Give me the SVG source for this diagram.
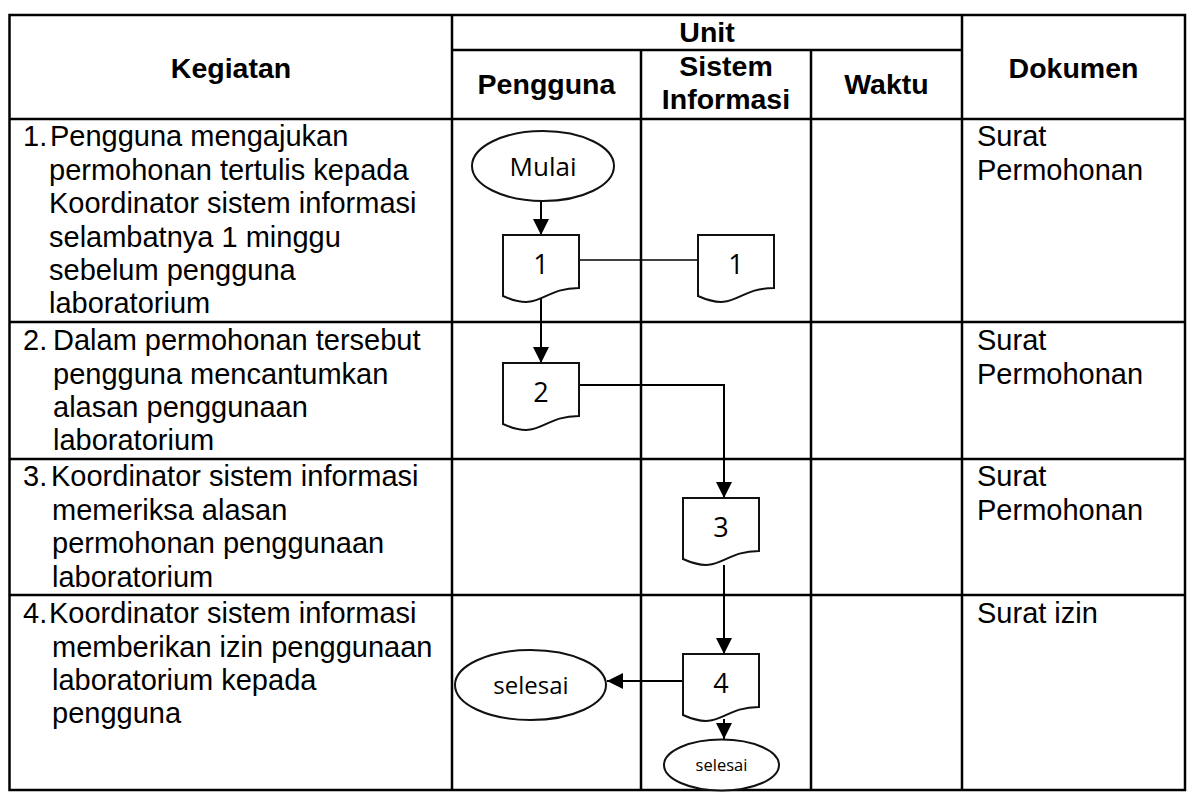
<svg xmlns="http://www.w3.org/2000/svg" width="1187" height="792" viewBox="0 0 1187 792">
<style>
.grid{stroke:#000;stroke-width:2.5;fill:none}
.hd{font-family:"Liberation Sans",Arial,sans-serif;font-weight:bold;font-size:28.5px;text-anchor:middle;fill:#000}
.tx{font-family:"Liberation Sans",Arial,sans-serif;font-size:29px;fill:#000}
.shape{fill:#fff;stroke:#111;stroke-width:2}
.lbl{font-family:"Open Sans","Noto Sans",sans-serif;text-anchor:middle;fill:#000}
.con{stroke:#000;stroke-width:2;fill:none}
</style>
<defs>
<path id="docshape" d="M0,0 H76 V53 C38,53 38,78 0,61 Z"/>
<marker id="arr" markerUnits="userSpaceOnUse" markerWidth="17" markerHeight="16" refX="16" refY="8" orient="auto">
<path d="M0,0 L16,8 L0,16 Z" fill="#000"/>
</marker>
</defs>
<rect width="1187" height="792" fill="#fff"/>
<g id="table">
<rect class="grid" x="9.5" y="15" width="1175.5" height="775"/>
<line class="grid" x1="452" y1="15" x2="452" y2="790"/>
<line class="grid" x1="641" y1="50" x2="641" y2="790"/>
<line class="grid" x1="811" y1="50" x2="811" y2="790"/>
<line class="grid" x1="962" y1="15" x2="962" y2="790"/>
<line class="grid" x1="452" y1="50" x2="962" y2="50"/>
<line class="grid" x1="9.5" y1="119" x2="1185" y2="119"/>
<line class="grid" x1="9.5" y1="322" x2="1185" y2="322"/>
<line class="grid" x1="9.5" y1="459" x2="1185" y2="459"/>
<line class="grid" x1="9.5" y1="595" x2="1185" y2="595"/>
</g>
<g id="header">
<text class="hd" x="231" y="78">Kegiatan</text>
<text class="hd" x="707" y="42">Unit</text>
<text class="hd" x="546.5" y="94">Pengguna</text>
<text class="hd" x="726" y="76">Sistem</text>
<text class="hd" x="726" y="109">Informasi</text>
<text class="hd" x="886.5" y="94">Waktu</text>
<text class="hd" x="1073.5" y="78">Dokumen</text>
</g>
<g id="kegiatan">
<text class="tx" x="23" y="146">1.</text>
<text class="tx"><tspan x="50" y="146">Pengguna mengajukan</tspan><tspan x="49" y="179.5">permohonan tertulis kepada</tspan><tspan x="49" y="213">Koordinator sistem informasi</tspan><tspan x="49" y="246.5">selambatnya 1 minggu</tspan><tspan x="49" y="280">sebelum pengguna</tspan><tspan x="49" y="313">laboratorium</tspan></text>
<text class="tx" x="23" y="350">2.</text>
<text class="tx"><tspan x="53" y="350">Dalam permohonan tersebut</tspan><tspan x="53" y="383.5">pengguna mencantumkan</tspan><tspan x="53" y="417">alasan penggunaan</tspan><tspan x="53" y="450">laboratorium</tspan></text>
<text class="tx" x="23" y="486">3.</text>
<text class="tx"><tspan x="51" y="486">Koordinator sistem informasi</tspan><tspan x="52" y="520">memeriksa alasan</tspan><tspan x="52" y="553">permohonan penggunaan</tspan><tspan x="52" y="587">laboratorium</tspan></text>
<text class="tx" x="23" y="623">4.</text>
<text class="tx"><tspan x="49" y="623">Koordinator sistem informasi</tspan><tspan x="52" y="657">memberikan izin penggunaan</tspan><tspan x="52" y="690">laboratorium kepada</tspan><tspan x="52" y="723">pengguna</tspan></text>
</g>
<g id="dokumen">
<text class="tx"><tspan x="977" y="146">Surat</tspan><tspan x="977" y="180">Permohonan</tspan></text>
<text class="tx"><tspan x="977" y="350">Surat</tspan><tspan x="977" y="384">Permohonan</tspan></text>
<text class="tx"><tspan x="977" y="486">Surat</tspan><tspan x="977" y="520">Permohonan</tspan></text>
<text class="tx" x="977" y="623">Surat izin</text>
</g>
<g id="connectors">
<line class="con" x1="541" y1="201" x2="541" y2="235" marker-end="url(#arr)"/>
<line class="con" x1="541" y1="298" x2="541" y2="363" marker-end="url(#arr)"/>
<line class="con" x1="579" y1="260" x2="698" y2="260" style="stroke-width:1.6"/>
<polyline class="con" points="579,385 724,385 724,498" marker-end="url(#arr)"/>
<line class="con" x1="724" y1="565" x2="724" y2="654" marker-end="url(#arr)"/>
<line class="con" x1="683" y1="681" x2="607" y2="681" marker-end="url(#arr)"/>
<line class="con" x1="724" y1="719" x2="724" y2="739" marker-end="url(#arr)"/>
</g>
<g id="mulai">
<ellipse class="shape" cx="543" cy="166" rx="71" ry="35"/>
<text class="lbl" x="543" y="176" font-size="26">Mulai</text>
</g>
<g id="doc1">
<use href="#docshape" class="shape" x="503" y="235"/>
<text class="lbl" x="541" y="274" font-size="27">1</text>
</g>
<g id="doc1b">
<use href="#docshape" class="shape" x="698" y="235"/>
<text class="lbl" x="736" y="274" font-size="27">1</text>
</g>
<g id="doc2">
<use href="#docshape" class="shape" x="503" y="363"/>
<text class="lbl" x="541" y="402" font-size="27">2</text>
</g>
<g id="doc3">
<use href="#docshape" class="shape" x="683" y="498"/>
<text class="lbl" x="721" y="537" font-size="27">3</text>
</g>
<g id="doc4">
<use href="#docshape" class="shape" x="683" y="654"/>
<text class="lbl" x="721" y="693" font-size="27">4</text>
</g>
<g id="selesai1">
<ellipse class="shape" cx="530.5" cy="685" rx="75.5" ry="35"/>
<text class="lbl" x="531" y="694" font-size="24">selesai</text>
</g>
<g id="selesai2">
<ellipse class="shape" cx="721.5" cy="765" rx="57.5" ry="25.5"/>
<text class="lbl" x="721.5" y="771" font-size="16.5">selesai</text>
</g>
</svg>
